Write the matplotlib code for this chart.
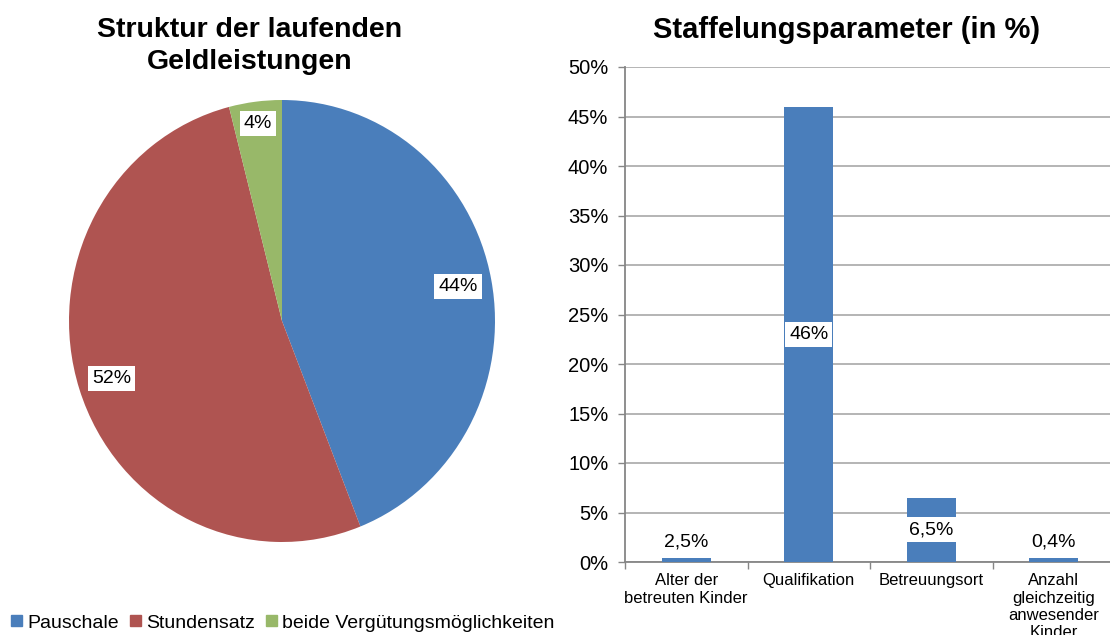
import numpy as np
import matplotlib
matplotlib.use('Agg')
import matplotlib.pyplot as plt
from matplotlib.patches import Patch

plt.rcParams['font.family'] = ['Liberation Sans', 'DejaVu Sans']

# Daten Kreisdiagramm
pie_labels = ['Pauschale', 'Stundensatz', 'beide Vergütungsmöglichkeiten']
pie_values = [44, 52, 4]
pie_colors = ['#4A7EBB', '#AF5451', '#98B869']

# Daten Balkendiagramm
bar_cats = ['Alter der\nbetreuten Kinder', 'Qualifikation', 'Betreuungsort',
            'Anzahl\ngleichzeitig\nanwesender\nKinder']
bar_values = [0.4, 46, 6.5, 0.4]
bar_texts = ['2,5%', '46%', '6,5%', '0,4%']

W, H = 1110, 635
fig = plt.figure(figsize=(W / 100, H / 100), dpi=100)

# -------------------------------------------------------------------------
# Kreisdiagramm
# -------------------------------------------------------------------------
cx, cy, rx, ry = 282, 321, 213, 221
ax1 = fig.add_axes([(cx - rx) / W, (H - cy - ry) / H, 2 * rx / W, 2 * ry / H])
wedges, _ = ax1.pie(pie_values, colors=pie_colors, startangle=90,
                    counterclock=False, radius=1)
ax1.set_aspect('auto')
ax1.set_xlim(-1, 1)
ax1.set_ylim(-1, 1)
label_dist = [0.84, 0.84, 0.90]
for w, v, d in zip(wedges, pie_values, label_dist):
    mid = np.deg2rad((w.theta1 + w.theta2) / 2)
    ax1.text(d * np.cos(mid), d * np.sin(mid), f'{v}%', ha='center', va='center',
             fontsize=14, bbox=dict(facecolor='white', edgecolor='none', pad=3))

fig.text(250 / W, 1 - 46 / H, 'Struktur der laufenden\nGeldleistungen', ha='center',
         va='center', fontsize=20.5, fontweight='bold', linespacing=1.3)

fig.legend(handles=[Patch(color=c, label=l) for c, l in zip(pie_colors, pie_labels)],
           loc='center left', bbox_to_anchor=(11 / W, 1 - 623 / H), ncol=3,
           frameon=False, fontsize=14, handlelength=0.55, handleheight=0.55,
           handletextpad=0.3, columnspacing=0.55, borderpad=0, borderaxespad=0)

# -------------------------------------------------------------------------
# Balkendiagramm
# -------------------------------------------------------------------------
left, top, bottom, cw = 625, 67, 562, 122.5
ax2 = fig.add_axes([left / W, (H - bottom) / H, 4 * cw / W, (bottom - top) / H])
x = np.arange(len(bar_cats))
ax2.bar(x, bar_values, width=0.4, color='#4A7EBB', zorder=3)
ax2.set_xlim(-0.5, 3.5)
ax2.set_ylim(0, 50)
ax2.set_yticks(np.arange(0, 51, 5))
ax2.set_yticklabels([f'{t}%' for t in range(0, 51, 5)], fontsize=14.5)
ax2.grid(axis='y', color='#A0A0A0', linewidth=1.1, zorder=0)
ax2.set_xticks(x)
ax2.set_xticklabels(bar_cats, fontsize=12, linespacing=1.2, va='top')
ax2.set_xticks([-0.5, 0.5, 1.5, 2.5], minor=True)
ax2.tick_params(axis='x', which='major', length=0, pad=8)
ax2.tick_params(axis='x', which='minor', length=5, color='#868686', width=1)
ax2.tick_params(axis='y', length=5, color='#868686', width=1, pad=7)
for s in ['top', 'right']:
    ax2.spines[s].set_visible(False)
for s in ['left', 'bottom']:
    ax2.spines[s].set_color('#868686')
    ax2.spines[s].set_linewidth(1.3)

for xi, v, t in zip(x, bar_values, bar_texts):
    ty = v / 2 if v > 5 else v + 1.6
    ax2.text(xi, ty, t, ha='center', va='center', fontsize=14, zorder=4,
             bbox=dict(facecolor='white', edgecolor='none', pad=3))

fig.text(847 / W, 1 - 30 / H, 'Staffelungsparameter (in %)', ha='center',
         va='center', fontsize=21, fontweight='bold')

fig.savefig('out.png', dpi=100)
